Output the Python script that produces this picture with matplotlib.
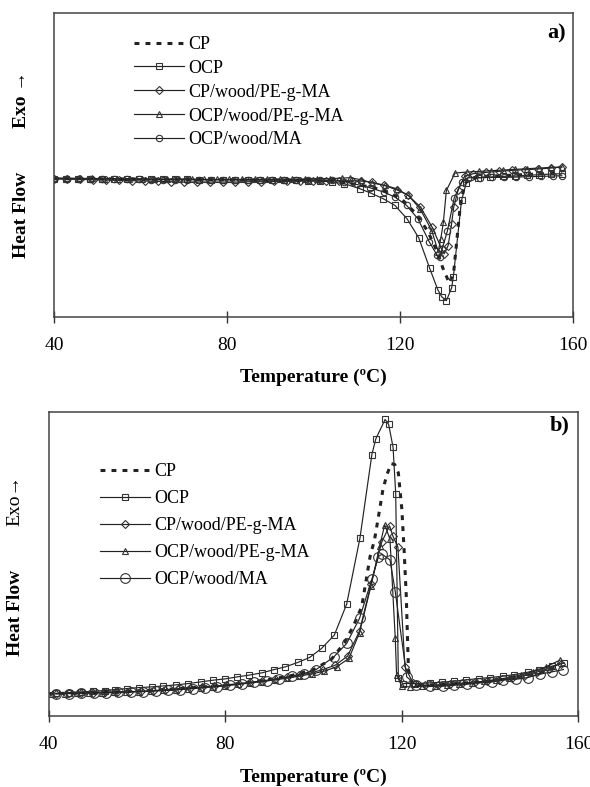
import matplotlib
matplotlib.use('Agg')
from matplotlib import pyplot as plt

plt.rcParams['font.family'] = ['Liberation Serif', 'DejaVu Serif']

# ---- panel a) melting ----
a_cp_t = [40, 50, 60, 70, 80, 90, 100, 105, 110, 114, 118, 121, 124, 126.5, 128.5, 130, 131.5, 132.5, 133.3, 134,
          135, 136, 140, 145, 150, 157.5]
a_cp_v = [41.3, 41.3, 41.2, 41.1, 41.0, 40.9, 40.7, 40.4, 39.6, 38.6, 37, 34.5, 30.5, 25.5, 20, 14.5, 10, 13.5, 24, 33,
          39.5, 41.5, 42, 42.3, 42.6, 43]

a_ocp_t = [40, 42.8, 45.6, 48.4, 51.2, 54, 56.8, 59.6, 62.4, 65.2, 68, 70.8, 73.6, 76.4, 79.2, 82, 84.8, 87.6, 90.4, 93.2,
           96, 98.8, 101.6, 104.4, 107.2, 110.8, 113.3, 116.2, 118.9, 121.7, 124.4, 126.9, 128.8, 129.7, 130.8, 132.0,
           132.4, 134.3, 135.4, 138.2, 141, 143.8, 146.6, 149.4, 152.2, 155, 157.5]
a_ocp_v = [41.3, 41.3, 41.3, 41.3, 41.3, 41.3, 41.2, 41.2, 41.2, 41.1, 41.1, 41.1, 41.0, 41.0, 41.0, 41.0, 40.9, 40.9, 40.9,
           40.8, 40.8, 40.7, 40.6, 40.3, 39.8, 38.3, 37.0, 35.3, 33.3, 29.3, 23.6, 14.6, 8.1, 6.0, 4.8, 8.6, 11.8, 34.8,
           40.0, 41.6, 41.8, 42.0, 42.1, 42.3, 42.5, 42.7, 42.8]

a_cpw_t = [40, 43, 46, 49, 52, 55, 58, 61, 64, 67, 70, 73, 76, 79, 82, 85, 88, 91, 94, 97, 100, 103, 106, 109, 111, 113.5,
           116.4, 119.3, 122, 124.8, 127.5, 129.7, 130.3, 131.2, 132, 132.5, 133.5, 135, 137, 140, 143, 146, 149, 152,
           155, 157.5]
a_cpw_v = [41.3, 41.2, 41.1, 41.0, 40.9, 40.8, 40.7, 40.6, 40.5, 40.4, 40.3, 40.3, 40.3, 40.3, 40.3, 40.4, 40.4, 40.5,
           40.5, 40.6, 40.6, 40.7, 40.7, 40.7, 40.6, 40.3, 39.3, 38.0, 36.3, 32.8, 26.8, 20.3, 18.8, 21.3, 27.8, 32.8,
           37.8, 42.0, 42.8, 43.2, 43.5, 43.8, 44.0, 44.2, 44.5, 44.8]

a_ocpw_t = [40, 42.9, 45.8, 48.7, 51.6, 54.5, 57.4, 60.3, 63.2, 66.1, 69, 71.9, 74.8, 77.7, 80.6, 83.5, 86.4, 89.3, 92.2,
            95.1, 98, 100.9, 103.8, 106.7, 108.5, 111, 113.7, 116.6, 119.3, 122, 124.7, 127.4, 128.9, 129.5, 130.1,
            130.8, 132.8, 135.5, 138.3, 141.1, 143.9, 146.7, 149.5, 152.3, 155.1, 157.5]
a_ocpw_v = [41.5, 41.5, 41.4, 41.4, 41.3, 41.3, 41.3, 41.2, 41.2, 41.2, 41.2, 41.2, 41.1, 41.1, 41.1, 41.1, 41.1, 41.1,
            41.2, 41.2, 41.2, 41.3, 41.3, 41.5, 41.6, 41.0, 40.0, 39.3, 38.3, 36.3, 32.3, 25.8, 19.5, 23.3, 28.3, 37.8,
            43.0, 43.3, 43.5, 43.7, 43.9, 44.1, 44.3, 44.5, 44.7, 44.8]

a_ma_t = [40, 42.8, 45.6, 48.4, 51.2, 54, 56.8, 59.6, 62.4, 65.2, 68, 70.8, 73.6, 76.4, 79.2, 82, 84.8, 87.6, 90.4, 93.2,
          96, 98.8, 101.6, 104.4, 107.2, 110, 113.1, 116.3, 118.9, 121.6, 124.2, 126.8, 128.6, 129.3, 131, 132.6, 134.3,
          135.8, 138.6, 141.4, 144.2, 147, 149.8, 152.6, 155.4, 157.5]
a_ma_v = [41.3, 41.3, 41.3, 41.2, 41.2, 41.2, 41.1, 41.1, 41.0, 41.0, 41.0, 41.0, 41.0, 41.0, 41.0, 41.0, 41.0, 41.0,
          41.0, 41.0, 41.0, 41.0, 40.9, 40.8, 40.4, 39.6, 38.6, 37.3, 35.8, 33.3, 29.3, 22.5, 18.5, 18.0, 25.5, 35.5,
          40.3, 41.6, 41.6, 41.7, 41.7, 41.8, 41.9, 42.0, 42.1, 42.2]

# ---- panel b) crystallisation ----
b_cp_t = [40, 50, 60, 70, 80, 90, 95, 100, 104, 107, 109, 110.9, 112.8, 113.8, 114.7, 115.7, 116.6, 117.6, 118.4, 119.2,
          120.0, 120.5, 121.0, 121.3, 121.5, 122.2, 125, 130, 140, 150, 156]
b_cp_v = [6.8, 7.0, 7.6, 8.3, 9.3, 11.0, 12.2, 14.0, 17.0, 22.0, 27.0, 32.8, 47.8, 52.8, 59.8, 67.8, 72.3, 75.6, 75.3,
          72.8, 61.8, 49.8, 35.8, 21.8, 13.8, 10.0, 9.3, 9.6, 10.5, 12.5, 15.0]

b_ocp_t = [41.7, 44.5, 47.3, 50, 52.7, 55, 57.8, 60.5, 63.3, 66, 68.8, 71.6, 74.4, 77.2, 80, 82.7, 85.3, 88.3, 91.1, 93.6,
           96.4, 99.1, 101.8, 104.7, 107.5, 110.5, 113.2, 114.1, 116.2, 117, 118, 118.6, 119.2, 120.2, 122.9, 126.3, 129,
           131.8, 134.5, 137.4, 139.9, 142.9, 145.5, 148.5, 151, 154, 156.8]
b_ocp_v = [6.9, 7.1, 7.3, 7.5, 7.7, 8.0, 8.3, 8.6, 8.8, 9.1, 9.4, 9.8, 10.3, 10.8, 11.2, 11.8, 12.3, 13.0, 14.0, 14.8,
           16.1, 17.6, 20.3, 24.3, 33.6, 53.3, 78.3, 83.0, 88.8, 87.3, 80.5, 66.6, 11.5, 9.8, 9.8, 10.0, 10.2, 10.5, 10.9,
           11.3, 11.6, 12.0, 12.5, 13.2, 14.0, 15.0, 16.0]

b_cpw_t = [41.7, 44.5, 47.3, 50, 52.7, 55.4, 58.2, 61, 63.7, 66.4, 69.2, 72, 74.7, 77.4, 80.2, 83, 85.7, 88.4, 91.2, 94,
           96.7, 99.4, 102.2, 104.9, 107.7, 110.4, 113, 115.4, 117.2, 118, 119.1, 120.7, 122.5, 125.3, 128.1, 130.9,
           133.7, 136.5, 139.3, 142.1, 144.9, 147.7, 150.5, 153.3, 156]
b_cpw_v = [6.8, 6.9, 7.0, 7.1, 7.2, 7.3, 7.4, 7.5, 7.7, 7.9, 8.1, 8.4, 8.7, 9.0, 9.4, 9.8, 10.2, 10.6, 11.1, 11.7, 12.3,
           13.0, 14.0, 15.3, 18.0, 25.5, 39.5, 52.0, 57.0, 53.8, 50.6, 14.8, 10.0, 9.3, 9.4, 9.6, 9.9, 10.2, 10.6, 11.0,
           11.5, 12.2, 13.2, 14.3, 15.8]

b_ocpw_t = [40.8, 43.6, 46.4, 49.2, 52, 54.8, 57.6, 60.4, 63.2, 66, 68.8, 71.6, 74.4, 77.2, 80, 82.8, 85.6, 88.4, 91.2,
            94, 96.8, 99.6, 102.4, 105.2, 108, 110.4, 113, 115, 116.1, 117.3, 118.5, 118.8, 120, 121.8, 124.6, 127.4,
            130.2, 133, 135.8, 138.6, 141.4, 144.2, 147, 149.8, 152.6, 155.8]
b_ocpw_v = [6.7, 6.8, 6.9, 7.0, 7.1, 7.2, 7.3, 7.4, 7.6, 7.8, 8.0, 8.3, 8.6, 8.9, 9.2, 9.6, 10.0, 10.4, 10.9, 11.4, 12.0,
            12.7, 13.5, 14.8, 17.3, 25.0, 39.0, 51.0, 57.3, 53.0, 23.3, 12.3, 9.0, 8.8, 9.0, 9.2, 9.5, 9.8, 10.1, 10.5,
            11.0, 11.6, 12.4, 13.4, 14.8, 16.8]

b_ma_t = [41.7, 44.6, 47.4, 50.2, 53, 55.8, 58.6, 61.4, 64.2, 67, 69.8, 72.6, 75.4, 78.2, 81, 83.8, 86.6, 89.4, 92.2, 95,
          97.8, 100.6, 104.6, 107.5, 110.4, 113.2, 114.7, 115.5, 117.3, 118.5, 121.1, 123.3, 126.3, 129.3, 131.8, 134.8,
          137.4, 140.4, 142.9, 145.9, 148.5, 151.2, 154.0, 156.6]
b_ma_v = [6.8, 6.8, 6.9, 7.0, 7.1, 7.2, 7.3, 7.4, 7.6, 7.8, 8.0, 8.3, 8.6, 8.9, 9.3, 9.7, 10.2, 10.7, 11.3, 12.0, 12.8,
          14.0, 17.8, 21.8, 29.3, 41.0, 47.8, 48.5, 46.8, 37.3, 11.8, 9.3, 9.0, 9.0, 9.3, 9.6, 10.0, 10.3, 10.8, 11.1,
          11.6, 12.6, 13.3, 14.0]

labels = ['CP', 'OCP', 'CP/wood/PE-g-MA', 'OCP/wood/PE-g-MA', 'OCP/wood/MA']
ink = '#222222'


def draw(ax, data, sizes):
    cp, ocp, cpw, ocpw, ma = data
    ax.plot(cp[0], cp[1], color=ink, linestyle=(0, (1.6, 2.0)), linewidth=2.2, label=labels[0])
    for (t, v), mk, ms, lab in zip([ocp, cpw, ocpw, ma], ['s', 'D', '^', 'o'], sizes, labels[1:]):
        ax.plot(t, v, color=ink, linewidth=0.85, marker=mk, markersize=ms, markerfacecolor='none',
                markeredgecolor='#333333', markeredgewidth=0.8, label=lab)
    ax.set_xlim(40, 160)
    ax.set_ylim(0, 91)
    ax.set_xticks([40, 80, 120, 160])
    ax.set_yticks([])
    ax.tick_params(axis='x', direction='inout', length=9, width=1.0, color='#333333', pad=10, labelsize=14)
    for s in ax.spines.values():
        s.set_color('#444444')
        s.set_linewidth(1.1)
    ax.set_xlabel('Temperature (ºC)', fontsize=14, fontweight='bold', labelpad=11)


fig = plt.figure(figsize=(5.9, 7.87), dpi=100)
ax1 = fig.add_axes([0.0915, 0.5976, 0.879, 0.3863])
ax2 = fig.add_axes([0.0825, 0.0898, 0.898, 0.3866])

draw(ax1, [(a_cp_t, a_cp_v), (a_ocp_t, a_ocp_v), (a_cpw_t, a_cpw_v), (a_ocpw_t, a_ocpw_v), (a_ma_t, a_ma_v)],
     [3.8, 3.8, 4.2, 4.6])
draw(ax2, [(b_cp_t, b_cp_v), (b_ocp_t, b_ocp_v), (b_cpw_t, b_cpw_v), (b_ocpw_t, b_ocpw_v), (b_ma_t, b_ma_v)],
     [3.8, 4.4, 4.2, 7.0])

ax1.legend(loc='center left', bbox_to_anchor=(0.2266, 0.8829), bbox_transform=fig.transFigure, frameon=False,
           fontsize=13, handlelength=2.8, handletextpad=0.2, labelspacing=0.38, borderpad=0, borderaxespad=0,
           numpoints=1)
ax2.legend(loc='center left', bbox_to_anchor=(0.1693, 0.3319), bbox_transform=fig.transFigure, frameon=False,
           fontsize=13, handlelength=2.8, handletextpad=0.2, labelspacing=0.55, borderpad=0, borderaxespad=0,
           numpoints=1)

fig.text(557 / 590, 1 - 33 / 787, 'a)', fontsize=16, fontweight='bold', ha='center', va='center')
fig.text(560 / 590, 1 - 425 / 787, 'b)', fontsize=16, fontweight='bold', ha='center', va='center')

fig.text(21 / 590, 1 - 100 / 787, 'Exo \u2192', fontsize=14, fontweight='bold', rotation=90, ha='center', va='center')
fig.text(21 / 590, 1 - 215 / 787, 'Heat Flow', fontsize=14, fontweight='bold', rotation=90, ha='center', va='center')
fig.text(15 / 590, 1 - 500 / 787, 'Exo\u2192', fontsize=14, rotation=90, ha='center', va='center')
fig.text(15 / 590, 1 - 613 / 787, 'Heat Flow', fontsize=14, fontweight='bold', rotation=90, ha='center', va='center')

fig.savefig('out.png', dpi=100)
